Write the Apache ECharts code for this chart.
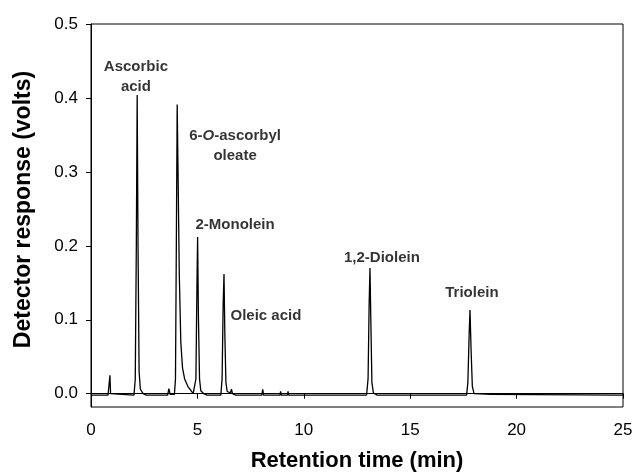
<!DOCTYPE html>
<html><head><meta charset="utf-8">
<script src="https://cdn.jsdelivr.net/npm/echarts@6/dist/echarts.min.js"></script>
<style>html,body{margin:0;padding:0;background:#fff}#c{width:635px;height:472px}</style>
</head><body><div id="c"></div>
<script>
// Chromatogram trace: retention time (min) and detector response (V)
const timeMin = [0,0.8,0.86,0.89,0.92,0.97,2.02,2.08,2.13,2.17,2.21,2.26,2.32,2.45,2.6,3.6,3.66,3.72,3.92,3.97,4.01,4.05,4.09,4.15,4.22,4.3,4.4,4.55,4.7,4.8,4.88,4.93,4.98,5.01,5.05,5.1,5.16,5.3,5.45,6.1,6.16,6.21,6.25,6.29,6.34,6.4,6.55,6.6,6.65,6.8,8.03,8.07,8.11,8.88,8.91,8.94,9.23,9.26,9.29,12.95,13.02,13.07,13.11,13.15,13.2,13.27,13.45,17.65,17.71,17.77,17.81,17.86,17.92,18.0,18.8,25];
const responseV = [-0.002,-0.002,0.0,0.025,0.0,-0.002,-0.002,0.02,0.2,0.404,0.2,0.03,0.006,0.0,-0.002,-0.002,0.007,-0.001,-0.001,0.02,0.2,0.391,0.3,0.16,0.07,0.035,0.02,0.01,0.004,0.0,-0.001,0.02,0.15,0.212,0.1,0.02,0.004,0.0,-0.002,-0.002,0.02,0.12,0.162,0.08,0.015,0.003,0.001,0.006,0.0,-0.002,-0.002,0.006,-0.002,-0.002,0.003,-0.002,-0.002,0.003,-0.002,-0.002,0.02,0.12,0.17,0.1,0.015,0.001,-0.002,-0.002,0.015,0.08,0.113,0.06,0.01,0.0,-0.001,-0.002];

// Peak annotations (label text and their position in data units)
const peakNames = ['Ascorbic\nacid', '6-{i|O}-ascorbyl\noleate', '2-Monolein', 'Oleic acid', '1,2-Diolein', 'Triolein'];
const peakLabelX = [2.11, 6.77, 6.77, 8.22, 13.67, 17.9];
const peakLabelY = [0.428, 0.335, 0.228, 0.105, 0.184, 0.136];

// Axis ticks
const xTicks = [0, 5, 10, 15, 20, 25];
const yTicks = [0, 0.1, 0.2, 0.3, 0.4, 0.5];

const trace = timeMin.map((t, i) => [t, responseV[i]]);
const labels = peakNames.map((n, i) => ({ name: n, value: [peakLabelX[i], peakLabelY[i]] }));

const font = '"Liberation Sans", Arial, sans-serif';
const chart = echarts.init(document.getElementById('c'), null, { renderer: 'canvas' });
chart.setOption({
  animation: false,
  backgroundColor: '#fff',
  grid: { left: 91, right: 12, top: 24, bottom: 65, outerBoundsMode: 'none', containLabel: false, show: true, borderColor: '#000', borderWidth: 1, backgroundColor: 'transparent' },
  xAxis: {
    type: 'value', min: 0, max: 25, interval: 5,
    name: 'Retention time (min)', nameLocation: 'middle', nameGap: 43,
    nameTextStyle: { fontFamily: font, fontWeight: 'bold', fontSize: 22, color: '#000' },
    axisLine: { show: true, lineStyle: { color: '#000', width: 1 } },
    axisTick: { show: true, length: 5, customValues: xTicks, lineStyle: { color: '#000' } },
    axisLabel: { fontFamily: font, fontSize: 17, color: '#000', margin: 15, customValues: xTicks },
    splitLine: { show: false }
  },
  yAxis: {
    type: 'value', min: -0.018, max: 0.5,
    name: 'Detector response (volts)', nameLocation: 'middle', nameGap: 56,
    nameTextStyle: { fontFamily: font, fontWeight: 'bold', fontSize: 23, color: '#000', padding: [0, 0, 0, 12] },
    axisLine: { show: true, onZero: false, lineStyle: { color: '#000', width: 1 } },
    axisTick: { show: true, length: 5, customValues: yTicks, lineStyle: { color: '#000' } },
    axisLabel: { fontFamily: font, fontSize: 17, color: '#000', margin: 13, customValues: yTicks, formatter: v => v.toFixed(1) },
    splitLine: { show: false }
  },
  series: [
    {
      type: 'line', data: trace, symbol: 'none', smooth: false,
      lineStyle: { color: '#000', width: 1.3 }, z: 3
    },
    {
      type: 'scatter', data: labels, symbolSize: 0, silent: true,
      label: {
        show: true, position: 'inside', formatter: p => p.name,
        fontFamily: font, fontWeight: 'bold', fontSize: 15, color: '#000',
        lineHeight: 20, align: 'center',
        rich: { i: { fontFamily: font, fontWeight: 'bold', fontStyle: 'italic', fontSize: 15, color: '#000', lineHeight: 20 } }
      }
    }
  ]
});
</script>
</body></html>
